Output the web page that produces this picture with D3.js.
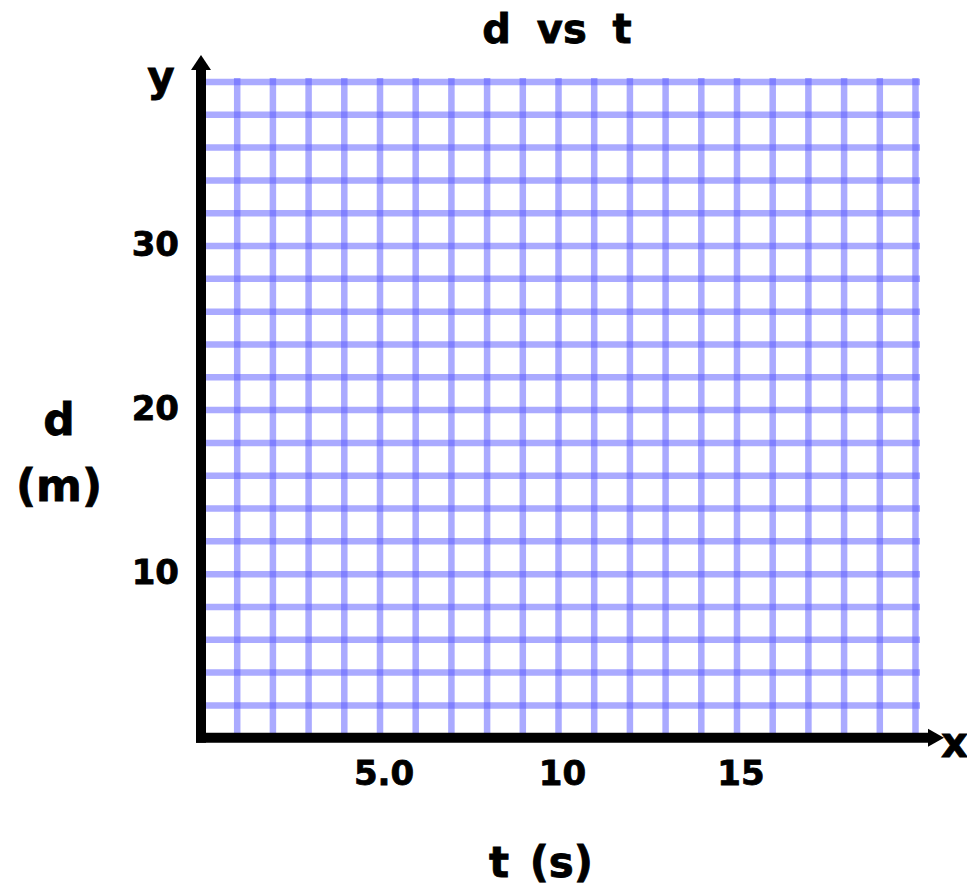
<!DOCTYPE html>
<html>
<head>
<meta charset="utf-8">
<script src="https://cdn.jsdelivr.net/npm/d3@7/dist/d3.min.js"></script>
<style>
  html, body { margin: 0; padding: 0; background: #fff; }
  svg text { font-family: "DejaVu Sans", Verdana, sans-serif; font-weight: bold; fill: #000;
             stroke: #000; stroke-width: 0.8px; }
</style>
</head>
<body>
<svg id="chart" width="967" height="886"></svg>
<script>
// Axis ranges of the blank d–t graph paper
const xDomain = [0, 20];          // time, s
const yDomain = [0, 40];          // distance, m

// Grid divisions: one column per second, one row per 2 m
const xGridValues = [1, 2, 3, 4, 5, 6, 7, 8, 9, 10, 11, 12, 13, 14, 15, 16, 17, 18, 19, 20];
const yGridValues = [2, 4, 6, 8, 10, 12, 14, 16, 18, 20, 22, 24, 26, 28, 30, 32, 34, 36, 38, 40];

// Labelled ticks
const xTickValues = [5, 10, 15];
const xTickLabels = ["5.0", "10", "15"];
const yTickValues = [10, 20, 30];
const yTickLabels = ["10", "20", "30"];

const titleText = "d vs t";
const xTitle = "t (s)";
const yTitleLines = ["d", "(m)"];

const svg = d3.select("#chart");

const x = d3.scaleLinear().domain(xDomain).range([201, 915]);
const y = d3.scaleLinear().domain(yDomain).range([737.7, 81.5]);

const gridColor = "#5555ff";
const gridOpacity = 0.5;
const gridWidth = 6.5;

// Vertical grid lines (drawn with an axis whose ticks span the plot)
const vGrid = svg.append("g")
  .attr("transform", `translate(0,${y(0)})`)
  .call(d3.axisBottom(x)
    .tickValues(xGridValues)
    .tickSize(-(y(0) - y(40) + 3.5))
    .tickFormat(""));
vGrid.select(".domain").remove();
vGrid.selectAll(".tick line")
  .attr("stroke", gridColor)
  .attr("stroke-opacity", gridOpacity)
  .attr("stroke-width", gridWidth);

// Horizontal grid lines
const hGrid = svg.append("g")
  .attr("transform", `translate(${x(0)},0)`)
  .call(d3.axisRight(y)
    .tickValues(yGridValues)
    .tickSize(x(20) - x(0) + 5)
    .tickFormat(""));
hGrid.select(".domain").remove();
hGrid.selectAll(".tick line")
  .attr("x1", 5)
  .attr("stroke", gridColor)
  .attr("stroke-opacity", gridOpacity)
  .attr("stroke-width", gridWidth);

// Heavy black axes with arrowheads
const axisW = 10;
svg.append("line")
  .attr("x1", x(0)).attr("x2", x(0))
  .attr("y1", y(0) + axisW / 2).attr("y2", 66)
  .attr("stroke", "#000").attr("stroke-width", axisW);
svg.append("line")
  .attr("x1", x(0) - axisW / 2).attr("x2", 932)
  .attr("y1", y(0)).attr("y2", y(0))
  .attr("stroke", "#000").attr("stroke-width", axisW);

svg.append("path")
  .attr("d", `M${x(0)},55 L${x(0) + 10},70 L${x(0) - 10},70 Z`)
  .attr("fill", "#000");
svg.append("path")
  .attr("d", `M944,${y(0)} L928,${y(0) - 9} L928,${y(0) + 9} Z`)
  .attr("fill", "#000");

// Axis end letters
svg.append("text").attr("x", 161).attr("y", 91)
  .attr("text-anchor", "middle").attr("font-size", 42).text("y");
svg.append("text").attr("x", 941).attr("y", 757)
  .attr("text-anchor", "start").attr("font-size", 42).text("x");

// Tick labels via axes (no tick marks, no domain line)
const xAxis = svg.append("g")
  .attr("transform", `translate(0,${y(0)})`)
  .call(d3.axisBottom(x)
    .tickValues(xTickValues)
    .tickSize(0)
    .tickPadding(0)
    .tickFormat((d, i) => xTickLabels[i]));
xAxis.select(".domain").remove();
xAxis.selectAll("text")
  .attr("dy", null)
  .attr("y", 47)
  .attr("dx", 4)
  .attr("font-size", 34)
  .attr("font-family", null);

const yAxis = svg.append("g")
  .attr("transform", `translate(${x(0)},0)`)
  .call(d3.axisLeft(y)
    .tickValues(yTickValues)
    .tickSize(0)
    .tickPadding(0)
    .tickFormat((d, i) => yTickLabels[i]));
yAxis.select(".domain").remove();
yAxis.selectAll("text")
  .attr("x", -22)
  .attr("dy", "0.3em")
  .attr("font-size", 34)
  .attr("font-family", null);

// Titles
svg.append("text").attr("x", 557).attr("y", 43)
  .attr("text-anchor", "middle").attr("font-size", 40)
  .style("word-spacing", "12px").text(titleText);

svg.append("text").attr("x", 541).attr("y", 877)
  .attr("text-anchor", "middle").attr("font-size", 42)
  .style("word-spacing", "6px").text(xTitle);

svg.append("text").attr("x", 59).attr("y", 435)
  .attr("text-anchor", "middle").attr("font-size", 44).text(yTitleLines[0]);
svg.append("text").attr("x", 59).attr("y", 501)
  .attr("text-anchor", "middle").attr("font-size", 44).text(yTitleLines[1]);
</script>
</body>
</html>
